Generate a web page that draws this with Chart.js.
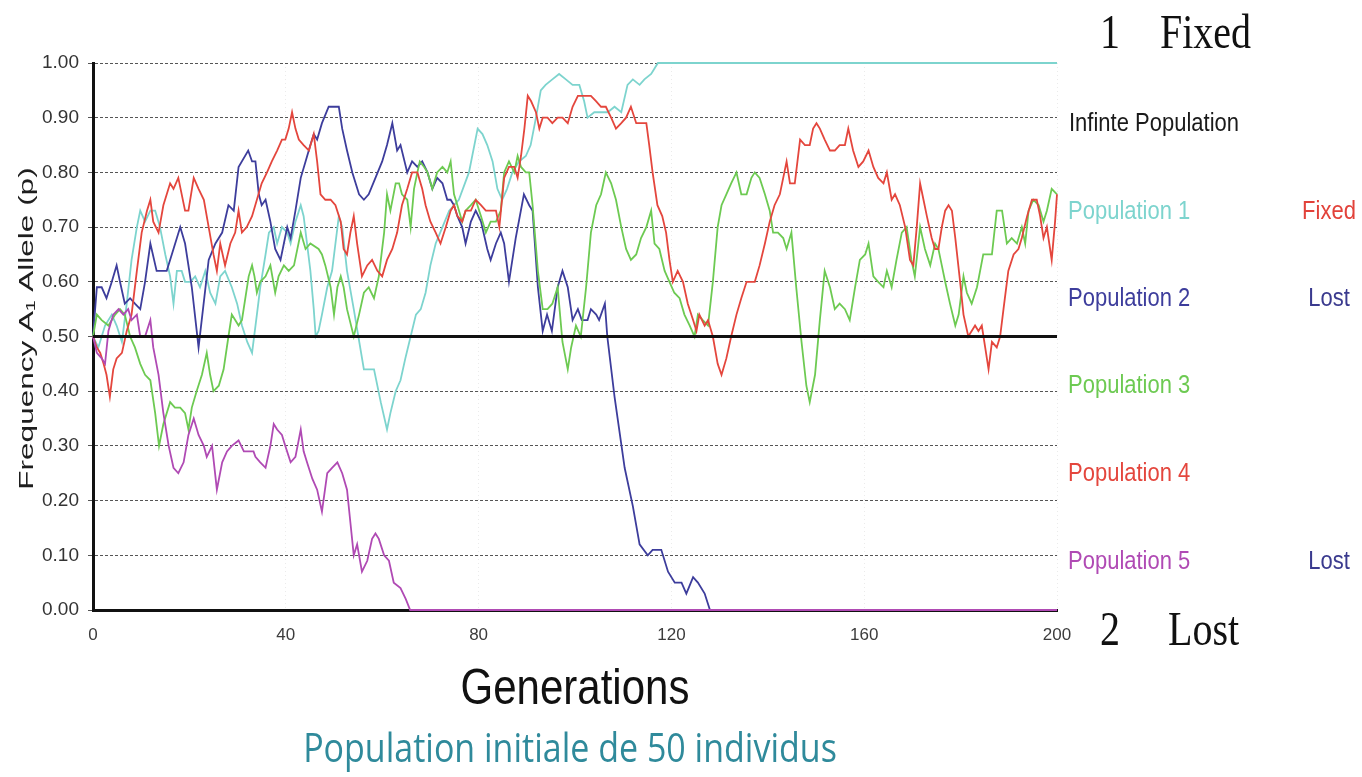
<!DOCTYPE html>
<html>
<head>
<meta charset="utf-8">
<script src="https://cdn.jsdelivr.net/npm/chart.js@4.4.0/dist/chart.umd.min.js"></script>
<style>
  html, body { margin: 0; padding: 0; background: #fff; }
  #wrap { width: 1362px; height: 777px; }
</style>
</head>
<body>
<div id="wrap"><canvas id="graph_drift" width="1362" height="777"></canvas></div>
<script>
/*------------------------------*/
/*   DERIVE GENETIQUE - N = 50  */
/*------------------------------*/
var xTicks = [0, 40, 80, 120, 160, 200]
var yTicks = [0, 0.1, 0.2, 0.3, 0.4, 0.5, 0.6, 0.7, 0.8, 0.9, 1]

// [generation, frequence p]
var infinite = [[0, 0.5], [200, 0.5]]

var pop1 = [[0,.50],[1.1,.48],[2.5,.52],[3.9,.54],[4.9,.52],[6,.49],[7,.56],[8,.64],[9.1,.70],[9.8,.73],[10.8,.71],[11.9,.73],[12.9,.73],[13.9,.70],[15,.65],[16,.61],[16.7,.56],[17.4,.62],[18.4,.62],[19.1,.60],[20.2,.60],[21.2,.61],[22.2,.59],[23.3,.62],[24.3,.58],[25.4,.56],[26.4,.61],[27.4,.62],[28.8,.59],[29.9,.56],[30.9,.52],[32,.49],[33,.47],[34,.54],[34.7,.59],[35.8,.65],[36.5,.69],[37.5,.70],[38.2,.67],[39.2,.70],[40.3,.69],[41,.67],[42,.71],[43.1,.74],[43.7,.72],[44.4,.67],[45.1,.62],[45.8,.55],[46.2,.50],[46.8,.51],[47.5,.54],[48.6,.59],[49.6,.62],[50.3,.67],[51,.72],[51.7,.70],[52.7,.62],[54.1,.55],[56.2,.44],[57.2,.44],[58.3,.44],[59.7,.38],[61,.33],[61.7,.36],[62.8,.40],[63.8,.42],[64.8,.46],[65.9,.50],[67,.54],[68,.55],[69,.58],[70,.63],[71.1,.67],[72.5,.70],[73.9,.73],[75.9,.75],[78,.80],[79.8,.88],[80.8,.87],[81.8,.85],[82.9,.82],[83.9,.77],[84.9,.75],[85.9,.77],[87,.80],[88.4,.82],[89.8,.83],[90.8,.85],[91.9,.90],[92.9,.95],[93.9,.96],[95.3,.97],[96.7,.98],[98.1,.97],[99.5,.96],[100.9,.96],[101.9,.93],[102.6,.90],[104,.91],[105.4,.91],[106.8,.91],[108.2,.92],[109.6,.91],[110.9,.96],[112,.97],[113.4,.96],[114.4,.97],[115.8,.98],[117.2,1],[200,1]]

var pop2 = [[0,.50],[0.8,.59],[1.8,.59],[2.8,.57],[3.9,.60],[4.9,.63],[5.6,.60],[6.6,.56],[7.7,.57],[8.7,.56],[9.8,.55],[10.8,.60],[11.9,.67],[13.2,.62],[15.3,.62],[16.7,.66],[18.1,.70],[19.1,.67],[20.5,.59],[21.9,.48],[24,.64],[25.4,.67],[26.8,.69],[28.1,.74],[29.2,.73],[30.2,.81],[32.2,.84],[33,.82],[33.7,.82],[34.4,.76],[35,.74],[35.8,.75],[36.8,.71],[37.8,.66],[38.9,.64],[39.6,.67],[40.3,.70],[41,.68],[42,.73],[43.1,.79],[44.1,.82],[45.1,.85],[45.8,.87],[46.5,.86],[47.5,.89],[48.9,.92],[51,.92],[51.7,.88],[52.7,.84],[53.8,.80],[55.2,.76],[56.2,.75],[57.2,.76],[58.6,.79],[60,.82],[61,.85],[62.1,.89],[63.1,.84],[63.8,.85],[65.2,.80],[66.2,.82],[67.3,.81],[68.3,.82],[69.4,.80],[70.4,.77],[71.4,.79],[72.5,.78],[73.5,.75],[74.2,.75],[74.9,.74],[75.6,.72],[76.6,.70],[77.3,.67],[78.4,.71],[79.4,.73],[80.5,.71],[81.8,.66],[82.5,.64],[83.6,.67],[84.6,.69],[85.3,.67],[86.3,.60],[87.7,.68],[89.4,.76],[90.5,.74],[91.2,.73],[92.3,.59],[93.3,.51],[94.2,.54],[95.2,.51],[96.4,.59],[97.4,.62],[98.5,.59],[99.5,.53],[100.6,.55],[101.4,.53],[102.6,.53],[103.3,.55],[104.4,.54],[105,.53],[106.2,.56],[106.7,.50],[108.2,.39],[110.3,.26],[112,.19],[113.4,.12],[115.1,.10],[116.1,.11],[117.9,.11],[119.3,.07],[120.7,.05],[122.1,.05],[123.1,.03],[124.5,.06],[125.5,.05],[126.9,.03],[128,0],[200,0]]

var pop3 = [[0,.50],[0.8,.54],[1.8,.53],[3.2,.52],[4.6,.54],[5.6,.55],[6.6,.54],[7.7,.50],[8.7,.48],[9.8,.45],[10.8,.43],[11.9,.42],[12.9,.36],[13.7,.30],[14.6,.34],[16,.38],[17,.37],[18.1,.37],[19.1,.36],[19.8,.33],[20.5,.37],[21.5,.40],[22.6,.43],[23.6,.47],[24.3,.43],[25,.40],[26.1,.41],[27.1,.44],[28.1,.50],[28.8,.54],[29.5,.53],[30.2,.52],[30.9,.53],[32.3,.61],[33,.63],[33.5,.61],[34,.58],[34.7,.60],[35.8,.61],[36.8,.63],[37.8,.58],[38.5,.61],[39.6,.63],[40.6,.62],[41.7,.63],[43.1,.69],[44.1,.66],[45.1,.67],[46.8,.66],[47.5,.65],[48.2,.63],[49.3,.59],[50,.54],[50.7,.59],[51.4,.61],[52,.59],[52.7,.55],[54.1,.50],[55.2,.54],[56.2,.58],[57.2,.59],[58.3,.57],[59.3,.61],[60.4,.69],[61,.76],[61.7,.73],[62.8,.78],[63.5,.78],[64.1,.76],[65.2,.75],[65.9,.70],[66.6,.77],[67.3,.80],[67.8,.82],[68.7,.81],[69.4,.80],[70.4,.77],[71.4,.80],[72.5,.81],[73.5,.80],[74.2,.82],[74.9,.76],[75.6,.74],[76.6,.71],[77.3,.73],[78.4,.74],[79.4,.75],[80.5,.72],[81.5,.69],[82.5,.71],[83.6,.71],[84.6,.73],[85.3,.80],[86.3,.82],[87.4,.80],[88.1,.83],[88.8,.81],[89.8,.80],[90.5,.80],[91.2,.74],[92.3,.62],[93.3,.55],[94.3,.55],[95.3,.56],[96.4,.59],[97.4,.49],[98.5,.44],[99.2,.48],[100.2,.52],[101.2,.50],[102.3,.59],[103.3,.69],[104.4,.74],[105.4,.76],[106.4,.80],[107.5,.78],[108.5,.75],[109.6,.70],[110.6,.66],[111.6,.64],[112.7,.65],[113.7,.68],[114.8,.70],[115.8,.73],[116.5,.67],[117.5,.66],[118.6,.62],[119.6,.60],[120.6,.58],[121.7,.57],[122.7,.54],[123.8,.52],[124.8,.50],[125.5,.54],[126.5,.53],[127.6,.52],[128.6,.60],[129.6,.70],[130.4,.74],[131.4,.76],[132.4,.78],[133.5,.80],[134.5,.76],[135.6,.76],[136.6,.79],[137.3,.80],[138.3,.79],[139.4,.76],[140.4,.73],[141.1,.69],[142.1,.69],[143.2,.68],[143.9,.66],[144.9,.69],[145.9,.59],[147,.49],[148,.41],[148.7,.38],[149.8,.43],[150.8,.53],[151.8,.62],[152.9,.59],[153.9,.55],[154.9,.56],[156,.55],[157,.53],[158.1,.59],[159.1,.64],[160.2,.65],[160.9,.67],[161.9,.61],[162.9,.60],[164,.59],[164.7,.62],[165.7,.59],[166.7,.64],[167.8,.69],[168.8,.70],[169.8,.64],[170.5,.61],[171.6,.70],[172.6,.66],[173.7,.63],[174.7,.67],[175.4,.66],[176.1,.63],[176.8,.60],[177.8,.56],[178.9,.52],[179.6,.54],[180.6,.61],[181.3,.58],[182.3,.56],[183.4,.59],[184.7,.65],[186.5,.65],[187.5,.73],[188.6,.73],[189.6,.67],[190.6,.68],[191.7,.67],[192.7,.70],[193.4,.67],[194.1,.73],[195.1,.75],[196.2,.74],[197.2,.71],[197.9,.73],[198.9,.77],[200,.76]]

var pop4 = [[0,.50],[0.8,.48],[1.5,.47],[2.2,.45],[2.8,.43],[3.5,.39],[4.2,.44],[4.9,.46],[6,.47],[7,.51],[8,.54],[9.1,.62],[10.1,.69],[11.2,.73],[11.9,.75],[12.5,.71],[13.6,.69],[14.6,.74],[16,.78],[16.7,.77],[17.7,.79],[19.1,.73],[19.8,.73],[20.9,.79],[21.9,.77],[23,.75],[24,.70],[25,.65],[25.7,.62],[26.4,.67],[27.4,.63],[28.5,.67],[29.5,.69],[30.2,.73],[30.9,.69],[31.9,.70],[33,.72],[34,.75],[35,.78],[36.1,.80],[37.1,.82],[38.2,.84],[39.2,.86],[39.9,.86],[40.6,.88],[41.3,.91],[42,.88],[42.7,.86],[43.7,.85],[44.8,.84],[45.8,.87],[46.5,.82],[47.2,.76],[48.2,.75],[49.3,.75],[50.3,.74],[51.4,.71],[52,.66],[52.7,.65],[53.4,.69],[54.1,.72],[54.8,.67],[55.8,.61],[56.9,.63],[57.9,.64],[59,.62],[60,.61],[61,.64],[62.1,.66],[63.1,.69],[64.1,.74],[65.2,.77],[66.2,.80],[67.3,.80],[68.3,.77],[69,.74],[70,.71],[71.1,.69],[72.1,.67],[73.2,.70],[74.2,.73],[74.9,.74],[75.6,.72],[76.6,.71],[77.3,.73],[78.4,.73],[79.4,.75],[80.5,.74],[81.5,.73],[82.5,.73],[83.6,.73],[84.3,.70],[85.3,.79],[86.3,.81],[87.4,.81],[88.1,.79],[88.8,.83],[89.5,.88],[90.2,.94],[90.9,.93],[91.9,.91],[92.6,.88],[93.3,.90],[94.3,.90],[95.3,.89],[96.4,.90],[97.4,.90],[98.5,.89],[99.5,.92],[100.6,.94],[103.3,.94],[104.4,.93],[105.4,.92],[106.4,.92],[107.5,.90],[108.5,.88],[109.6,.89],[110.6,.90],[111.6,.92],[112.7,.89],[113.7,.89],[114.8,.89],[115.4,.85],[116.1,.80],[117.1,.74],[118.1,.72],[118.9,.69],[119.6,.64],[120.3,.60],[121.3,.62],[122.4,.60],[123.4,.56],[124.5,.53],[125.2,.51],[125.8,.54],[126.9,.52],[127.6,.53],[128.6,.50],[129.6,.45],[130.4,.43],[131.4,.46],[132.4,.50],[133.5,.54],[134.5,.57],[135.6,.60],[137.3,.60],[138.3,.63],[139.4,.67],[140.4,.71],[141.4,.74],[142.5,.76],[143.2,.79],[143.9,.82],[144.6,.78],[145.6,.78],[146.7,.86],[147.7,.85],[148.7,.85],[149.4,.88],[150.1,.89],[150.8,.88],[151.8,.86],[152.9,.84],[153.9,.84],[154.9,.85],[156,.85],[156.7,.88],[157.7,.84],[158.8,.81],[159.8,.82],[160.9,.84],[161.9,.81],[162.9,.79],[164,.78],[164.7,.80],[165.7,.75],[166.4,.76],[167.4,.74],[168.5,.70],[169.5,.64],[170.2,.63],[170.9,.70],[171.6,.78],[172.3,.75],[173,.72],[174,.68],[174.7,.66],[175.4,.66],[176.1,.70],[176.8,.73],[177.5,.74],[178.2,.73],[178.9,.68],[179.9,.60],[180.6,.54],[181.6,.50],[182.3,.51],[183,.52],[183.7,.51],[184.4,.52],[185.1,.48],[185.8,.44],[186.5,.49],[187.5,.48],[188.2,.50],[188.9,.55],[189.9,.62],[191,.65],[192,.66],[192.7,.68],[193.8,.72],[194.8,.75],[195.8,.75],[196.5,.72],[197.2,.68],[197.9,.70],[198.9,.64],[199.6,.71],[200,.76]]

var pop5 = [[0,.50],[0.8,.47],[1.8,.46],[2.5,.45],[3.2,.51],[4.2,.54],[5.3,.55],[6.3,.54],[7.3,.55],[8,.53],[9.1,.54],[9.8,.50],[10.8,.50],[11.9,.53],[12.5,.48],[13.6,.43],[14.6,.36],[15.7,.30],[16.7,.26],[17.7,.25],[18.8,.27],[19.8,.32],[20.9,.35],[21.9,.32],[23,.30],[23.6,.28],[24.7,.30],[25.7,.22],[26.8,.27],[27.8,.29],[28.8,.30],[30.2,.31],[31.3,.29],[32.3,.29],[33.3,.29],[33.7,.28],[34.7,.27],[35.8,.26],[36.8,.30],[37.5,.34],[38.2,.33],[39.2,.32],[39.9,.30],[41,.27],[42,.28],[43.1,.33],[43.7,.29],[44.4,.27],[45.5,.24],[46.5,.22],[47.5,.18],[48.6,.25],[49.6,.26],[50.7,.27],[51.7,.25],[52.7,.22],[53.4,.16],[54.1,.10],[54.8,.12],[55.8,.07],[56.9,.09],[57.9,.13],[58.6,.14],[59.3,.13],[60.4,.10],[61.4,.09],[62.4,.05],[63.8,.04],[64.9,.02],[65.8,0],[200,0]]

var popNames = ['Population 1', 'Population 2', 'Population 3', 'Population 4', 'Population 5']
var popFates = ['Fixed', 'Lost', '', '', 'Lost']
var popColors = ['#7dd4ce', '#3d3d9c', '#6dca52', '#e4463d', '#b04ab4']
var fateColors = { Fixed: '#e2423a', Lost: '#3a3a8e' }

function toXY(arr) {
  return arr.map(function (p) { return { x: p[0], y: p[1] } })
}

var FONT = '"Liberation Sans", Arial, sans-serif'

// texte etire verticalement (le scan est plus haut que large)
function stretchedText(ctx, s, x, y, font, color, align, sy) {
  ctx.save()
  ctx.translate(x, y)
  ctx.scale(1, sy)
  ctx.font = font
  ctx.fillStyle = color
  ctx.textAlign = align
  ctx.textBaseline = 'alphabetic'
  ctx.fillText(s, 0, 0)
  ctx.restore()
}

var textes_plugin = {
  id: 'textes_plugin',
  beforeDraw: function (chart) {
    var ctx = chart.ctx
    ctx.save()
    ctx.fillStyle = '#ffffff'
    ctx.fillRect(0, 0, chart.width, chart.height)
    ctx.restore()
  },
  afterDraw: function (chart) {
    var ctx = chart.ctx
    var ca = chart.chartArea

    // titre axe Y
    ctx.save()
    ctx.translate(33, (ca.top + ca.bottom) / 2 - 8)
    ctx.rotate(-Math.PI / 2)
    ctx.scale(1.5, 1)
    ctx.font = '21px ' + FONT
    ctx.fillStyle = '#1e1e1e'
    ctx.textAlign = 'center'
    ctx.textBaseline = 'alphabetic'
    ctx.fillText('Frequency A\u2081 Allele (p)', 0, 0)
    ctx.restore()

    // titre axe X + sous-titre
    stretchedText(ctx, 'Generations', (ca.left + ca.right) / 2, 704, '42px ' + FONT, '#111111', 'center', 1.2)
    stretchedText(ctx, 'Population initiale de 50 individus', 570, 762, '34px "Open Sans", sans-serif', '#2f8a9b', 'center', 1.2)

    // 1 Fixed / 2 Lost
    var serif = '40px "Liberation Serif", "Times New Roman", serif'
    stretchedText(ctx, '1', 1100, 48, serif, '#111111', 'left', 1.2)
    stretchedText(ctx, 'Fixed', 1160, 48, serif, '#111111', 'left', 1.2)
    stretchedText(ctx, '2', 1100, 645, serif, '#111111', 'left', 1.2)
    stretchedText(ctx, 'Lost', 1168, 645, serif, '#111111', 'left', 1.2)

    // legende a droite
    stretchedText(ctx, 'Infinte Population', 1069, 131, '22px ' + FONT, '#1a1a1a', 'left', 1.2)
    var baselines = [219, 306, 393, 481, 569]
    for (var i = 0; i < popNames.length; i++) {
      stretchedText(ctx, popNames[i], 1068, baselines[i], '22px ' + FONT, popColors[i], 'left', 1.2)
      if (popFates[i]) {
        stretchedText(ctx, popFates[i], 1329, baselines[i], '22px ' + FONT, fateColors[popFates[i]], 'center', 1.2)
      }
    }
  }
}

function serie(label, arr, color, width, order) {
  return {
    label: label,
    data: toXY(arr),
    borderColor: color,
    backgroundColor: color,
    borderWidth: width,
    pointRadius: 0,
    tension: 0,
    fill: false,
    clip: 4,
    order: order
  }
}

var ctx_drift = document.getElementById('graph_drift').getContext('2d')

var data_drift = {
  datasets: [
    serie('Infinte Population', infinite, '#111111', 3, 0),
    serie(popNames[0], pop1, popColors[0], 1.8, 5),
    serie(popNames[1], pop2, popColors[1], 1.8, 4),
    serie(popNames[2], pop3, popColors[2], 1.8, 3),
    serie(popNames[3], pop4, popColors[3], 1.8, 2),
    serie(popNames[4], pop5, popColors[4], 1.8, 1)
  ]
}

var config_drift = {
  type: 'line',
  data: data_drift,
  plugins: [textes_plugin],
  options: {
    responsive: false,
    animation: false,
    devicePixelRatio: 1,
    events: [],
    layout: { padding: { left: 0, top: 63, right: 305, bottom: 0 } },
    plugins: {
      legend: { display: false },
      tooltip: { enabled: false },
      title: { display: false }
    },
    scales: {
      x: {
        type: 'linear',
        min: 0,
        max: 200,
        afterBuildTicks: function (s) { s.ticks = xTicks.map(function (v) { return { value: v } }) },
        afterFit: function (s) { s.height = 167 },
        ticks: {
          color: '#3c3c3c',
          font: { family: FONT, size: 17 },
          padding: 15,
          maxRotation: 0,
          autoSkip: false
        },
        grid: { color: 'rgba(0,0,0,0.08)', drawTicks: false },
        border: { color: '#111111', width: 3, dash: [1, 3] }
      },
      y: {
        type: 'linear',
        min: 0,
        max: 1,
        afterBuildTicks: function (s) { s.ticks = yTicks.map(function (v) { return { value: v } }) },
        afterFit: function (s) { s.width = 93 },
        ticks: {
          color: '#333333',
          font: { family: FONT, size: 19 },
          padding: 9,
          callback: function (v) { return Number(v).toFixed(2) }
        },
        grid: { color: 'rgba(55,55,55,0.85)', lineWidth: 1, tickLength: 5, tickColor: '#555555', tickBorderDash: [] },
        border: { color: '#111111', width: 3, dash: [3, 2] }
      }
    }
  }
}

var graph_drift = new Chart(ctx_drift, config_drift)
/*------------------------------*/
</script>
</body>
</html>
